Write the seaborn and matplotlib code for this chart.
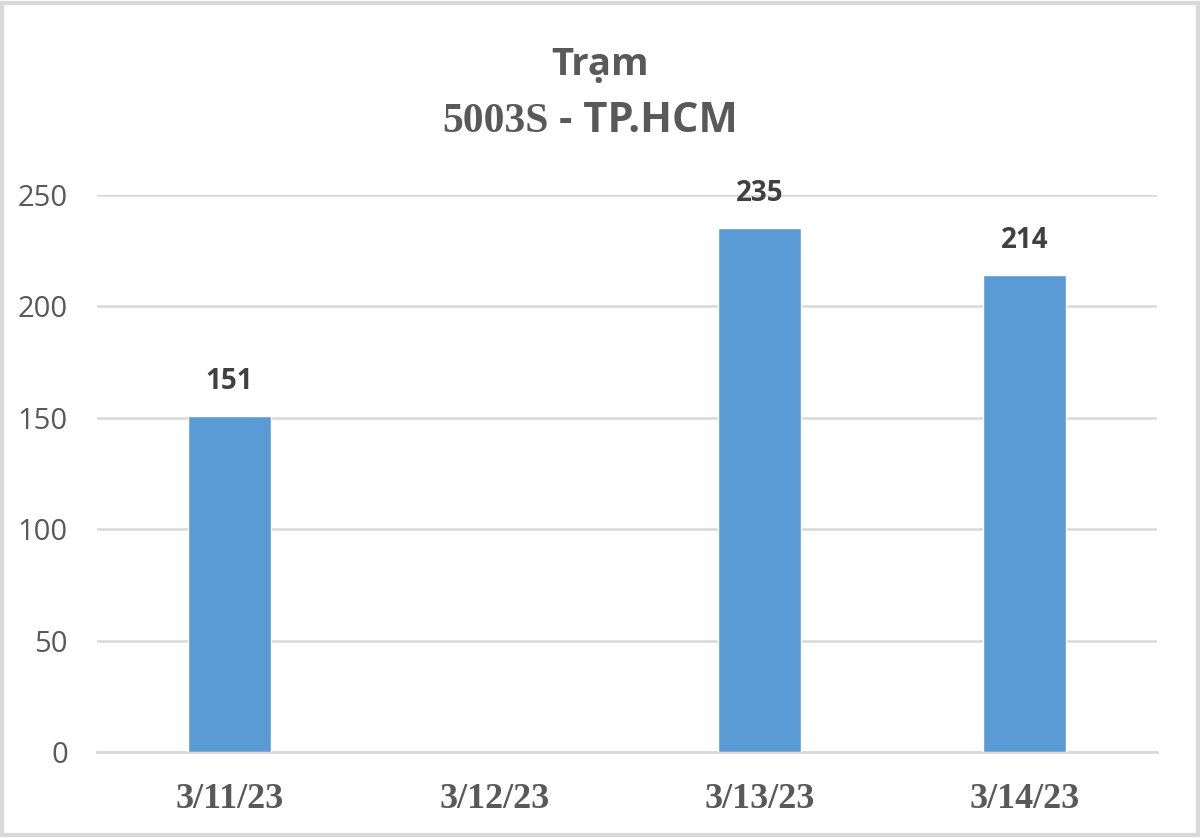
import numpy as np
import pandas as pd
import matplotlib
matplotlib.use("Agg")
import matplotlib.pyplot as plt
import seaborn as sb
from matplotlib.patches import Rectangle

# chart data
dates = ["3/11/23", "3/12/23", "3/13/23", "3/14/23"]
values = [151, np.nan, 235, 214]
yticks = [0, 50, 100, 150, 200, 250]

BAR = "#5b9bd5"
GRID = "#d9d9d9"
TXT = "#595959"


def main():
    sb.set_style("white")
    plt.rcParams["font.family"] = ["Open Sans", "DejaVu Sans"]

    D = pd.DataFrame({"date": dates, "value": values})

    fig = plt.figure(figsize=(12, 8.38), dpi=100)
    ax = fig.add_axes([97 / 1200, 86 / 838, 1060 / 1200, 557 / 838])

    sb.barplot(data=D, x="date", y="value", order=dates, color=BAR,
               width=0.313, saturation=1, ax=ax, zorder=3)

    ax.set_ylim(0, 250)
    ax.set_xlim(-0.5, len(dates) - 0.5)
    ax.set_yticks(yticks)
    ax.grid(axis="y", color=GRID, lw=1.8, zorder=0)
    ax.set_axisbelow(True)
    ax.set_xlabel("")
    ax.set_ylabel("")

    for s in ["top", "right", "left"]:
        ax.spines[s].set_visible(False)
    ax.spines["bottom"].set_color(GRID)
    ax.spines["bottom"].set_linewidth(2)

    ax.tick_params(axis="y", length=0, labelsize=21, labelcolor=TXT, pad=21)
    ax.set_xticks(range(len(dates)))
    ax.set_xticklabels(dates, fontfamily="Liberation Serif", fontweight="bold",
                       fontsize=26, color=TXT)
    ax.tick_params(axis="x", which="major", length=0, pad=22)
    ax.set_xticks(np.arange(-0.5, len(dates), 1.0), minor=True)
    ax.tick_params(axis="x", which="minor", length=9, width=2, color=GRID)

    for i, v in enumerate(values):
        if not np.isnan(v):
            ax.text(i, v + 9, f"{v:.0f}", ha="center", va="bottom",
                    fontsize=20, fontweight="bold", color="#404040")

    fig.text(0.5, 1 - 65 / 838, "Trạm", ha="center", va="center",
             fontsize=27.5, fontweight="bold", color=TXT)
    fig.text(549 / 1200, 1 - 122 / 838, "5003S", ha="right", va="center",
             fontfamily="Liberation Serif", fontsize=30, fontweight="bold", color=TXT)
    fig.text(559 / 1200, 1 - 122 / 838, "- TP.HCM", ha="left", va="center",
             fontsize=30, fontweight="bold", color=TXT)

    fig.patches.append(Rectangle((0.002, 0.003), 0.996, 0.994, transform=fig.transFigure,
                                 fill=False, edgecolor=GRID, lw=3))

    fig.savefig("out.png", dpi=100)
    plt.close()


if __name__ == "__main__":
    main()
